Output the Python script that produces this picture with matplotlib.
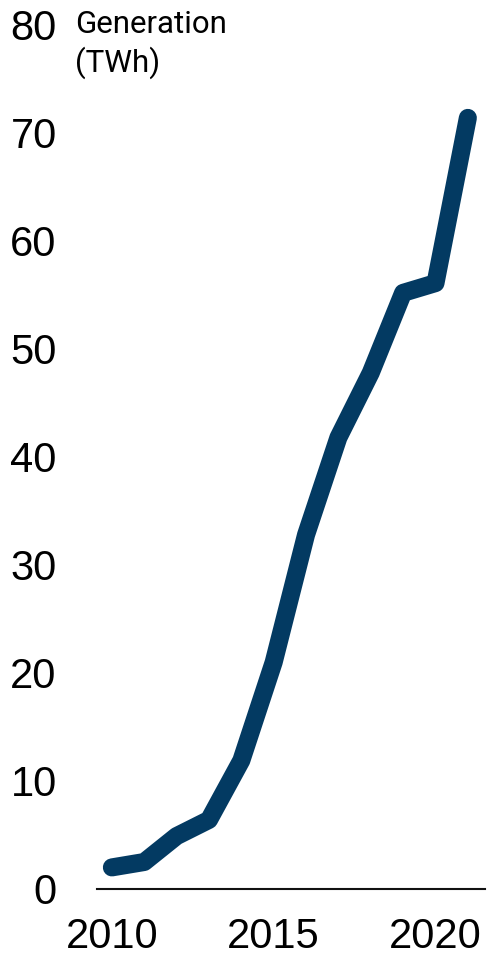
import matplotlib
matplotlib.use("Agg")
import matplotlib.pyplot as plt

years = [2010, 2011, 2012, 2013, 2014, 2015, 2016, 2017, 2018, 2019, 2020, 2021]
generation = [2.0, 2.5, 4.9, 6.4, 11.9, 21.0, 32.8, 41.8, 47.8, 55.2, 56.1, 71.4]
y_ticks = [0, 10, 20, 30, 40, 50, 60, 70, 80]
x_ticks = [2010, 2015, 2020]
y_label = "Generation\n(TWh)"

plt.rcParams['font.family'] = ['Liberation Sans', 'DejaVu Sans']

fig = plt.figure(figsize=(4.89, 9.58), dpi=100)
ax = fig.add_axes([97/489, 1 - 889/958, (485 - 97)/489, (889 - 25)/958])

ax.plot(years, generation, color="#033a62", linewidth=13, solid_capstyle="round",
        solid_joinstyle="round")

ax.set_xlim(2009.54, 2021.53)
ax.set_ylim(0, 80)
ax.set_yticks(y_ticks)
ax.set_xticks(x_ticks)
ax.tick_params(axis="both", length=0, labelsize=30, colors="black")
ax.tick_params(axis="y", pad=29)
ax.tick_params(axis="x", pad=20)
for lbl in ax.get_yticklabels():
    lbl.set_horizontalalignment("right")

for s in ["left", "right", "top"]:
    ax.spines[s].set_visible(False)
ax.spines["bottom"].set_color("#111111")
ax.spines["bottom"].set_linewidth(1.5)

fig.text(75/489, 1 - 10/958, y_label, fontsize=22.5, va="top", ha="left",
         linespacing=1.3, color="black", family=["Roboto", "DejaVu Sans"])

fig.savefig("out.png", dpi=100)
